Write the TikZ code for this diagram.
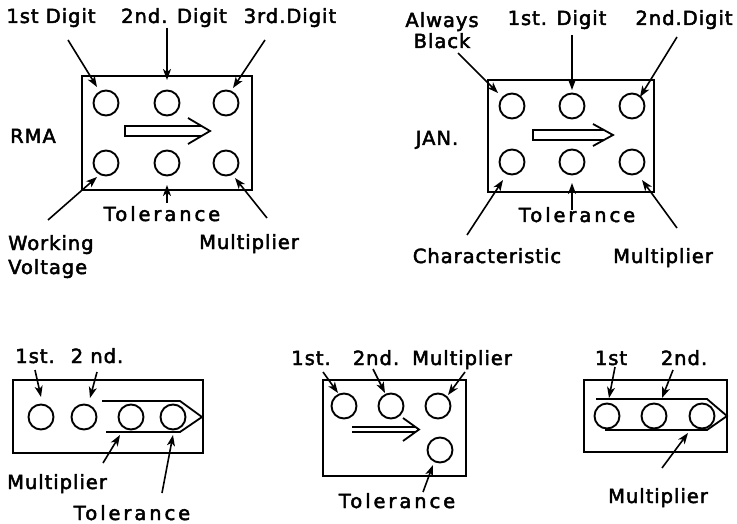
\documentclass[tikz,border=0pt]{standalone}
\usepackage{fontspec}
\setmainfont{DejaVu Sans}[LetterSpace=5, FakeBold=2.5]
\newfontfamily\wideFont{DejaVu Sans}[LetterSpace=15, FakeBold=2.5]
\usetikzlibrary{arrows.meta}

\begin{document}
\begin{tikzpicture}[x=1pt, y=-1pt,
    lbl/.style={inner sep=0pt, anchor=base, font=\fontsize{19.5}{24}\selectfont},
    tol/.style={lbl, font=\wideFont\fontsize{19.5}{24}\selectfont},
    dial/.style={circle, draw, line width=1.9pt, minimum size=25pt, inner sep=0pt},
    pointer/.style={line width=1.6pt, -{Stealth[length=11pt,width=8pt,inset=3pt]}},
    panel/.style={line width=1.8pt, line join=miter}]

    \useasboundingbox (0,0) rectangle (737,524);

    % ---------- RMA ----------
    \draw[panel] (82,76) rectangle (252,190);
    \foreach \i/\x in {1/106,2/167,3/226} {
        \node[dial] (rt\i) at (\x,103) {};
        \node[dial] (rb\i) at (\x,163) {};
    }
    \draw[panel] (201,126) -- (125,126) -- (125,136) -- (201,136);
    \draw[panel] (188,118) -- (210,131) -- (188,144);

    \node[lbl] (rmaD1) at (51,23) {1st Digit};
    \node[lbl] (rmaD2) at (174,23) {2nd. Digit};
    \node[lbl] (rmaD3) at (290,23) {3rd.Digit};
    \node[lbl] (rmaName) at (33,143) {RMA};
    \node[tol] (rmaTol) at (162,221) {Tolerance};
    \node[lbl, anchor=base west, align=left] (rmaWV) at (8,274) {Working\\Voltage};
    \node[lbl] (rmaMul) at (249,249) {Multiplier};

    \coordinate (rmaD1-t) at (68,40);   \coordinate (rmaD1-h) at (97,87);
    \coordinate (rmaD2-t) at (167,28);  \coordinate (rmaD2-h) at (167,80);
    \coordinate (rmaD3-t) at (265,40);  \coordinate (rmaD3-h) at (233,88);
    \coordinate (rmaWV-t) at (48,220);  \coordinate (rmaWV-h) at (97,177);
    \coordinate (rmaTol-t) at (167,203); \coordinate (rmaTol-h) at (167,185);
    \coordinate (rmaMul-t) at (267,218); \coordinate (rmaMul-h) at (235,178);
    \foreach \n in {rmaD1,rmaD2,rmaD3,rmaWV,rmaTol,rmaMul}
        \draw[pointer] (\n-t) -- (\n-h);

    % ---------- JAN ----------
    \draw[panel] (488,80) rectangle (654,192);
    \foreach \i/\x in {1/512,2/572,3/632} {
        \node[dial] (jt\i) at (\x,106) {};
        \node[dial] (jb\i) at (\x,162) {};
    }
    \draw[panel] (604,130) -- (533,130) -- (533,140) -- (604,140);
    \draw[panel] (593,124) -- (613,135) -- (593,146);

    \node[lbl, align=center] (janBlk) at (442,48) {Always\\[-3pt]Black};
    \node[lbl] (janD1) at (557,25) {1st. Digit};
    \node[lbl] (janD2) at (684,25) {2nd.Digit};
    \node[lbl] (janName) at (437,145) {JAN.};
    \node[tol] (janTol) at (577,222) {Tolerance};
    \node[lbl] (janChr) at (487,263) {Characteristic};
    \node[lbl] (janMul) at (663,263) {Multiplier};

    \coordinate (janBlk-t) at (458,53);  \coordinate (janBlk-h) at (498,93);
    \coordinate (janD1-t) at (572,35);   \coordinate (janD1-h) at (572,90);
    \coordinate (janD2-t) at (677,37);   \coordinate (janD2-h) at (640,97);
    \coordinate (janChr-t) at (467,235); \coordinate (janChr-h) at (503,180);
    \coordinate (janTol-t) at (572,210); \coordinate (janTol-h) at (572,183);
    \coordinate (janMul-t) at (677,228); \coordinate (janMul-h) at (642,180);
    \foreach \n in {janBlk,janD1,janD2,janChr,janTol,janMul}
        \draw[pointer] (\n-t) -- (\n-h);

    % ---------- four bands, arrow band ----------
    \draw[panel] (13,380) rectangle (203,453);
    \foreach \i/\x in {1/41,2/84,3/131,4/173}
        \node[dial] (fa\i) at (\x,417) {};
    \draw[panel] (102,401) -- (180,401) -- (202,417) -- (180,432) -- (106,432);

    \node[lbl] (faD1) at (35,363) {1st.};
    \node[lbl] (faD2) at (97,363) {2 nd.};
    \node[lbl] (faMul) at (57,489) {Multiplier};
    \node[tol] (faTol) at (132,520) {Tolerance};

    \coordinate (faD1-t) at (35,370);   \coordinate (faD1-h) at (41,397);
    \coordinate (faD2-t) at (97,372);   \coordinate (faD2-h) at (90,398);
    \coordinate (faMul-t) at (103,463); \coordinate (faMul-h) at (120,435);
    \coordinate (faTol-t) at (162,493); \coordinate (faTol-h) at (173,435);
    \foreach \n in {faD1,faD2,faMul,faTol}
        \draw[pointer] (\n-t) -- (\n-h);

    % ---------- four dots, corner ----------
    \draw[panel] (323,380) rectangle (466,476);
    \foreach \i/\x in {1/344,2/391,3/438}
        \node[dial] (fb\i) at (\x,406) {};
    \node[dial] (fb4) at (440,450) {};
    \draw[panel] (352,427) -- (415,427);
    \draw[panel] (352,432) -- (415,432);
    \draw[panel] (403,418) -- (419,429.5) -- (403,441);

    \node[lbl] (fbD1) at (311,365) {1st.};
    \node[lbl] (fbD2) at (376,365) {2nd.};
    \node[lbl] (fbMul) at (462,365) {Multiplier};
    \node[tol] (fbTol) at (397,508) {Tolerance};

    \coordinate (fbD1-t) at (323,372);  \coordinate (fbD1-h) at (338,393);
    \coordinate (fbD2-t) at (373,369);  \coordinate (fbD2-h) at (385,393);
    \coordinate (fbMul-t) at (465,372); \coordinate (fbMul-h) at (448,395);
    \coordinate (fbTol-t) at (423,492); \coordinate (fbTol-h) at (433,465);
    \foreach \n in {fbD1,fbD2,fbMul,fbTol}
        \draw[pointer] (\n-t) -- (\n-h);

    % ---------- three bands, arrow band ----------
    \draw[panel] (584,380) rectangle (727,452);
    \foreach \i/\x in {1/607,2/654,3/702}
        \node[dial] (fc\i) at (\x,416) {};
    \draw[panel] (596,399) -- (707,399) -- (727,416) -- (707,430) -- (605,430);

    \node[lbl] (fcD1) at (611,365) {1st};
    \node[lbl] (fcD2) at (684,365) {2nd.};
    \node[lbl] (fcMul) at (658,503) {Multiplier};

    \coordinate (fcD1-t) at (615,367);  \coordinate (fcD1-h) at (609,398);
    \coordinate (fcD2-t) at (673,370);  \coordinate (fcD2-h) at (662,398);
    \coordinate (fcMul-t) at (662,468); \coordinate (fcMul-h) at (688,433);
    \foreach \n in {fcD1,fcD2,fcMul}
        \draw[pointer] (\n-t) -- (\n-h);

\end{tikzpicture}
\end{document}
